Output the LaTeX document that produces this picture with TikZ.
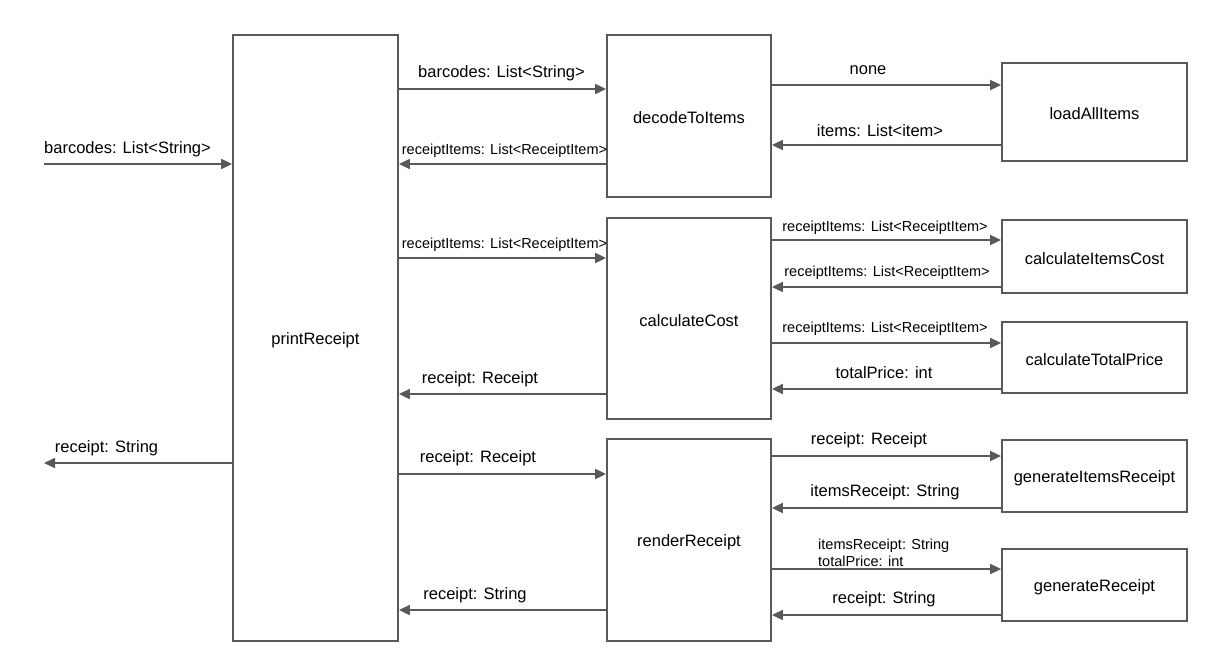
\documentclass[tikz,border=0pt]{standalone}
\usepackage{fontspec}
\setmainfont{Liberation Sans}
\usetikzlibrary{arrows.meta}
\definecolor{ln}{HTML}{595959}
\newcommand{\dn}[1]{\raisebox{-2pt}[\height][\depth]{#1}}
\tikzset{
  box/.style={draw=ln, line width=1.8pt, minimum width=#1, inner sep=0pt},
  arr/.style={draw=ln, line width=1.8pt, -{Triangle[length=11pt,width=10pt]}},
  big/.style={font=\fontsize{16.5}{19}\selectfont, inner sep=0pt, anchor=center},
  small/.style={font=\fontsize{14.5}{17}\selectfont, inner sep=0pt, anchor=center},
  lab/.style={yshift=-1.5pt},
}
\begin{document}
\begin{tikzpicture}[x=1pt,y=-1pt]
\useasboundingbox (0,0) rectangle (1205,667);
% boxes
\node[box=165pt, minimum height=606pt, big] (pr) at (315.5,338) {\dn{printReceipt}};
\node[box=164pt, minimum height=162pt, big] (dec) at (689,116) {\dn{decodeToItems}};
\node[box=185pt, minimum height=98pt, big] (load) at (1094.5,112) {\dn{loadAllItems}};
\node[box=164pt, minimum height=201pt, big] (calc) at (689,318.5) {\dn{calculateCost}};
\node[box=185pt, minimum height=73pt, big] (ic) at (1094.5,256.5) {\dn{calculateItemsCost}};
\node[box=185pt, minimum height=71pt, big] (tp) at (1094.5,357.5) {\dn{calculateTotalPrice}};
\node[box=164pt, minimum height=202pt, big] (ren) at (689,540) {\dn{renderReceipt}};
\node[box=185pt, minimum height=72pt, big] (gi) at (1094.5,476) {\dn{generateItemsReceipt}};
\node[box=185pt, minimum height=72pt, big] (gr) at (1094.5,585) {\dn{generateReceipt}};
% external ends
\coordinate (inL) at (44,164);
\coordinate (outL) at (44,463);
% arrow heights
\coordinate (a1) at (0,89);
\coordinate (a2) at (0,164);
\coordinate (a3) at (0,258);
\coordinate (a4) at (0,394);
\coordinate (a5) at (0,474);
\coordinate (a6) at (0,610);
\coordinate (b1) at (0,85);
\coordinate (b2) at (0,145);
\coordinate (b3) at (0,240);
\coordinate (b4) at (0,287);
\coordinate (b5) at (0,343);
\coordinate (b6) at (0,389);
\coordinate (b7) at (0,456);
\coordinate (b8) at (0,508);
\coordinate (b9) at (0,569);
\coordinate (b10) at (0,615);
% external
\draw[arr] (inL) -- (pr.west |- inL);
\draw[arr] (pr.west |- outL) -- (outL);
\node[big, lab] (l0) at (127.5,148) {barcodes: List<String>};
\node[big, lab] (l00) at (106.5,447) {receipt: String};
% printReceipt <-> middle
\draw[arr] (pr.east |- a1) -- (dec.west |- a1);
\draw[arr] (dec.west |- a2) -- (pr.east |- a2);
\draw[arr] (pr.east |- a3) -- (calc.west |- a3);
\draw[arr] (calc.west |- a4) -- (pr.east |- a4);
\draw[arr] (pr.east |- a5) -- (ren.west |- a5);
\draw[arr] (ren.west |- a6) -- (pr.east |- a6);
\node[big, lab] (l1) at (501.5,72) {barcodes: List<String>};
\node[small, lab] (l2) at (504.5,149) {receiptItems: List<ReceiptItem>};
\node[small, lab] (l3) at (504.5,243) {receiptItems: List<ReceiptItem>};
\node[big, lab] (l4) at (480,378) {receipt: Receipt};
\node[big, lab] (l5) at (478,457) {receipt: Receipt};
\node[big, lab] (l6) at (475,594) {receipt: String};
% middle <-> right
\draw[arr] (dec.east |- b1) -- (load.west |- b1);
\draw[arr] (load.west |- b2) -- (dec.east |- b2);
\draw[arr] (calc.east |- b3) -- (ic.west |- b3);
\draw[arr] (ic.west |- b4) -- (calc.east |- b4);
\draw[arr] (calc.east |- b5) -- (tp.west |- b5);
\draw[arr] (tp.west |- b6) -- (calc.east |- b6);
\draw[arr] (ren.east |- b7) -- (gi.west |- b7);
\draw[arr] (gi.west |- b8) -- (ren.east |- b8);
\draw[arr] (ren.east |- b9) -- (gr.west |- b9);
\draw[arr] (gr.west |- b10) -- (ren.east |- b10);
\node[big, lab] (m1) at (868,69) {none};
\node[big, lab] (m2) at (880,129) {items: List<item>};
\node[small, lab] (m3) at (885,226) {receiptItems: List<ReceiptItem>};
\node[small, lab] (m4) at (887,271) {receiptItems: List<ReceiptItem>};
\node[small, lab] (m5) at (885,327) {receiptItems: List<ReceiptItem>};
\node[big, lab] (m6) at (884,371) {totalPrice: int};
\node[big, lab] (m7) at (869,439) {receipt: Receipt};
\node[big, lab] (m8) at (885,491) {itemsReceipt: String};
\node[small, lab, anchor=west, align=left] (m9) at (818,551.5) {itemsReceipt: String\\totalPrice: int};
\node[big, lab] (m10) at (884,598) {receipt: String};
\end{tikzpicture}
\end{document}
